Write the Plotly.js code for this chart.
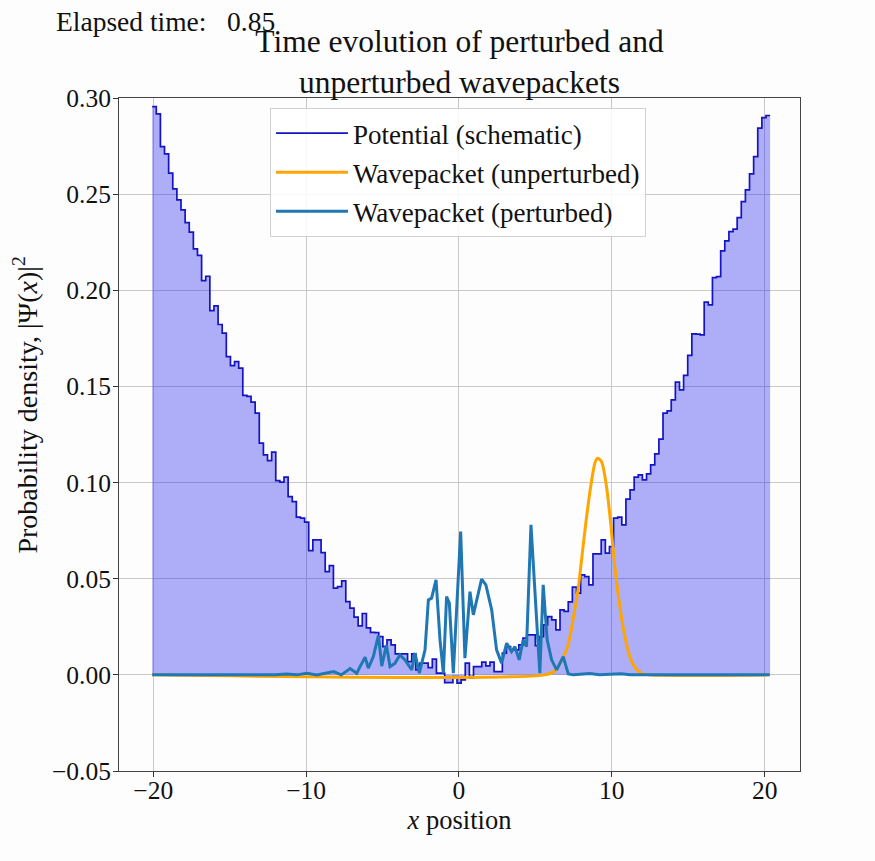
<!DOCTYPE html>
<html>
<head>
<meta charset="utf-8">
<script src="https://cdn.plot.ly/plotly-3.0.1.min.js"></script>
<style>html,body{margin:0;padding:0;background:#fdfdfd;}</style>
</head>
<body>
<div id="chart" style="width:875px;height:861px;"></div>
<script>
// ---- Data ----
// Potential (schematic): step levels, uniform bins starting at potStart
const potStart = -20.07;
const potStep = 0.2695;
const potentialLevels = [
  0.2955,0.2917,0.2747,0.2709,0.2609,0.2527,0.2470,0.2418,0.2352,0.2302,
  0.2215,0.2182,0.2050,0.2073,0.1894,0.1919,0.1822,0.1777,0.1655,0.1608,
  0.1629,0.1595,0.1453,0.1448,0.1418,0.1361,0.1205,0.1144,0.1114,0.1158,
  0.1010,0.1002,0.1028,0.0927,0.0901,0.0820,0.0815,0.0794,0.0646,0.0702,
  0.0702,0.0636,0.0537,0.0568,0.0451,0.0459,0.0489,0.0381,0.0347,0.0300,
  0.0255,0.0319,0.0244,0.0221,0.0220,0.0199,0.0147,0.0182,0.0156,0.0109,
  0.0109,0.0109,0.0069,0.0109,0.0026,0.0061,0.0061,0.0038,0.0082,0.0009,
  0.0009,-0.0040,-0.0040,-0.0009,-0.0043,-0.0026,0.0061,-0.0017,0.0043,0.0043,
  0.0066,0.0047,0.0066,0.0017,0.0017,0.0113,0.0147,0.0130,0.0130,0.0156,
  0.0191,0.0208,0.0208,0.0152,0.0199,0.0260,0.0303,0.0286,0.0234,0.0338,
  0.0330,0.0380,0.0456,0.0425,0.0520,0.0511,0.0468,0.0629,0.0629,0.0702,
  0.0633,0.0667,0.0815,0.0820,0.0780,0.0914,0.0962,0.1028,0.1040,0.1014,
  0.1045,0.1092,0.1149,0.1226,0.1361,0.1373,0.1430,0.1522,0.1482,0.1557,
  0.1661,0.1773,0.1772,0.1768,0.1938,0.1924,0.2066,0.2071,0.2205,0.2257,
  0.2305,0.2318,0.2378,0.2461,0.2522,0.2605,0.2695,0.2843,0.2898,0.2909
];

// Wavepacket (unperturbed)
const unpertX = [-20.07, 5.6, 6.27, 6.82, 7.15, 7.47, 7.8, 8.05, 8.3, 8.6, 8.89, 9.06, 9.32, 9.65, 9.91, 10.2, 10.48, 10.8, 11.2, 11.6, 12.0, 12.4, 20.33];
const unpertY = [0, 0, 0.002, 0.009, 0.016, 0.029, 0.045, 0.062, 0.079, 0.097, 0.110, 0.1127, 0.111, 0.098, 0.080, 0.056, 0.038, 0.022, 0.009, 0.003, 0.0007, 0, 0];

// Wavepacket (perturbed)
const pertX = [-20.07, -12.0, -11.3, -10.6, -9.96, -9.3, -8.2, -7.7, -7.12, -6.69, -6.47, -6.14, -5.93, -5.6, -5.27, -5.05, -4.75, -4.51, -4.18, -3.86, -3.53, -3.09, -2.88, -2.59, -2.22, -2.0, -1.79, -1.5, -1.24, -1.02, -0.81, -0.63, -0.37, 0.11, 0.39, 0.72, 0.94, 1.48, 1.76, 2.14, 2.46, 2.79, 3.12, 3.44, 3.66, 3.94, 4.2, 4.42, 4.71, 5.01, 5.29, 5.51, 5.77, 6.06, 6.39, 6.82, 7.15, 7.5, 8.56, 9.2, 10.6, 11.2, 20.33];
const pertY = [0, 0, 0.0005, 0, 0.0008, 0, 0.0017, 0, 0.0033, 0.0008, 0.0043, 0.0092, 0.0035, 0.0095, 0.0205, 0.0045, 0.0155, 0.0043, 0.0061, 0.0104, 0.0078, 0.0026, 0.0113, 0.0009, 0.013, 0.039, 0.0399, 0.0494, 0.0182, 0.0009, 0.0407, 0.0373, 0.0009, 0.0745, 0.0087, 0.0433, 0.0312, 0.0498, 0.0468, 0.0338, 0.013, 0.0061, 0.0165, 0.0121, 0.0147, 0.0078, 0.0182, 0.0147, 0.078, 0.0355, 0.0009, 0.0468, 0.0182, 0.0078, 0.0026, 0.0095, 0.0005, 0, 0.0007, 0, 0.0006, 0, 0];

const seriesNames = ["Potential (schematic)", "Wavepacket (unperturbed)", "Wavepacket (perturbed)"];
const elapsedLabel = "Elapsed time:";
const elapsedValue = "0.85";
const xTickVals = [-20, -10, 0, 10, 20];

// ---- Build stair series from levels ----
const potX = [], potY = [];
for (let i = 0; i < potentialLevels.length; i++) {
  potX.push(potStart + i * potStep);
  potY.push(potentialLevels[i]);
}
potX.push(potStart + potentialLevels.length * potStep);
potY.push(potentialLevels[potentialLevels.length - 1]);

const serif = "Liberation Serif, Times New Roman, serif";
const txt = "#111";

const traces = [
  {
    x: potX, y: potY, type: "scatter", mode: "lines",
    name: seriesNames[0], legendgroup: "g1", showlegend: false,
    line: {shape: "hv", color: "rgba(0,0,0,0)", width: 0},
    fill: "tozeroy", fillcolor: "rgba(0,0,240,0.31)", hoverinfo: "skip"
  },
  {
    x: potX, y: potY, type: "scatter", mode: "lines",
    name: seriesNames[0], legendgroup: "g1",
    line: {shape: "hv", color: "rgb(20,20,195)", width: 1.7}
  },
  {
    x: unpertX, y: unpertY, type: "scatter", mode: "lines",
    name: seriesNames[1], legendgroup: "g2",
    line: {shape: "spline", smoothing: 0.8, color: "#ffa500", width: 3}
  },
  {
    x: pertX, y: pertY, type: "scatter", mode: "lines",
    name: seriesNames[2], legendgroup: "g3",
    line: {color: "#1f77b4", width: 3}
  }
];

const layout = {
  width: 875, height: 861,
  margin: {l: 119, r: 75, t: 98, b: 90, pad: 0},
  paper_bgcolor: "#fdfdfd", plot_bgcolor: "#fdfdfd",
  font: {family: serif, size: 26, color: txt},
  title: {
    text: "Time evolution of perturbed and<br>unperturbed wavepackets",
    font: {family: serif, size: 31.5, color: txt},
    x: 0.5, xref: "paper", xanchor: "center",
    y: 0.9395, yref: "container", yanchor: "top"
  },
  showlegend: true,
  legend: {
    x: 0.2217, y: 0.985, xanchor: "left", yanchor: "top",
    bgcolor: "rgba(255,255,255,0.85)", bordercolor: "#d0d0d0", borderwidth: 1,
    font: {family: serif, size: 27, color: txt},
    traceorder: "grouped", tracegroupgap: 1, itemwidth: 72
  },
  xaxis: {
    range: [-22.24, 22.31], tickvals: xTickVals,
    ticks: "outside", ticklen: 5, tickcolor: "#333", ticklabelstandoff: -9,
    showline: true, linecolor: "#444", linewidth: 1, mirror: true,
    showgrid: true, gridcolor: "#c9c9c9", gridwidth: 1, zeroline: false,
    tickfont: {family: serif, size: 25.5, color: txt},
    title: {text: "<i>x</i> position", font: {family: serif, size: 26.5, color: txt}, standoff: 6}
  },
  yaxis: {
    range: [-0.05, 0.30], dtick: 0.05, tick0: 0, tickformat: ".2f",
    ticks: "outside", ticklen: 5, tickcolor: "#333", ticklabelstandoff: -3,
    showline: true, linecolor: "#444", linewidth: 1, mirror: true,
    showgrid: true, gridcolor: "#c9c9c9", gridwidth: 1, zeroline: false,
    tickfont: {family: serif, size: 25.5, color: txt}
  },
  annotations: [
    {
      text: elapsedLabel + "\u00a0\u00a0\u00a0" + elapsedValue,
      xref: "paper", yref: "paper", x: -0.0955, y: 1.113,
      xanchor: "left", yanchor: "middle", showarrow: false,
      font: {family: serif, size: 27.5, color: txt}
    },
    {
      text: "Probability density, |\u03a8(<i>x</i>)|<sup>2</sup>",
      xref: "paper", yref: "paper", x: -0.137, y: 0.544,
      xanchor: "center", yanchor: "middle", textangle: -90, showarrow: false,
      font: {family: serif, size: 28, color: txt}
    }
  ]
};

Plotly.newPlot("chart", traces, layout, {displayModeBar: false, staticPlot: true});
</script>
</body>
</html>
